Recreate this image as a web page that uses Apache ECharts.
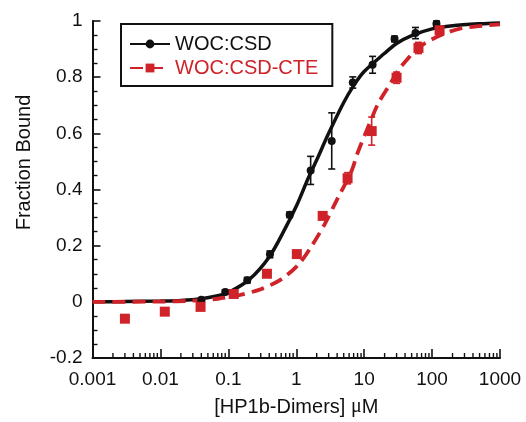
<!DOCTYPE html>
<html>
<head>
<meta charset="utf-8">
<script src="https://cdn.jsdelivr.net/npm/echarts@6/dist/echarts.min.js"></script>
<style>
  html, body { margin: 0; padding: 0; background: #fff; }
  #chart { width: 526px; height: 422px; }
</style>
</head>
<body>
<div id="chart"></div>
<script>
// Binding titration: fraction bound vs HP1b dimer concentration (µM)
const seriesNames = ['WOC:CSD', 'WOC:CSD-CTE'];

// WOC:CSD measured points
const csdConc = [0.04, 0.09, 0.19, 0.41, 0.8, 1.63, 3.33, 6.8, 13.3, 28, 57, 116];
const csdFrac = [0.007, 0.035, 0.077, 0.169, 0.31, 0.468, 0.573, 0.781, 0.844, 0.936, 0.957, 0.99];
const csdErr  = [0.005, 0.008, 0.01, 0.012, 0.01, 0.05, 0.1, 0.02, 0.03, 0.01, 0.02, 0.01];

// WOC:CSD-CTE measured points
const cteConc = [0.003, 0.0116, 0.039, 0.12, 0.37, 1.02, 2.45, 5.7, 12.9, 30, 63, 129];
const cteFrac = [-0.06, -0.035, -0.018, 0.028, 0.1, 0.17, 0.306, 0.44, 0.608, 0.798, 0.904, 0.967];
const cteErr  = [0.01, 0.01, 0.01, 0.01, 0.01, 0.01, 0.01, 0.02, 0.05, 0.02, 0.02, 0.01];

// Fitted binding curves
const csdFitConc = [0.001, 0.003, 0.01, 0.02, 0.04, 0.07, 0.1, 0.2, 0.4, 0.7, 1, 1.5, 2, 3, 5, 7, 10, 20, 30, 50, 100, 200, 500, 1000];
const csdFitFrac = [0, 0.001, 0.003, 0.005, 0.011, 0.022, 0.033, 0.078, 0.16, 0.265, 0.34, 0.44, 0.505, 0.6, 0.71, 0.77, 0.82, 0.885, 0.92, 0.948, 0.972, 0.983, 0.99, 0.993];
const cteFitConc = [0.001, 0.01, 0.03, 0.07, 0.15, 0.3, 0.6, 1.1, 1.7, 2.6, 4, 6.5, 8, 13, 16, 24, 33, 42, 59, 100, 160, 250, 450, 1000];
const cteFitFrac = [0, 0.001, 0.004, 0.011, 0.025, 0.045, 0.08, 0.135, 0.2, 0.275, 0.365, 0.465, 0.53, 0.655, 0.705, 0.775, 0.83, 0.86, 0.9, 0.935, 0.957, 0.972, 0.981, 0.988];

// Axis tick labels
const xTickLabels = ['0.001', '0.01', '0.1', '1', '10', '100', '1000'];
const yTickLabels = ['-0.2', '0', '0.2', '0.4', '0.6', '0.8', '1'];

const BLACK = '#111111';
const RED = '#cf2229';
const FONT = '"Liberation Sans", Arial, sans-serif';

const zip = (a, b) => a.map((v, i) => [v, b[i]]);
const zip3 = (a, b, c) => a.map((v, i) => [v, b[i], c[i]]);

// log-axis minor ticks at 2..9 of each decade, placed on the bottom edge (y = -0.2)
const minorTickValues = [];
for (let e = -3; e < 3; e++) {
  for (let m = 2; m <= 9; m++) minorTickValues.push(m * Math.pow(10, e));
}

function errorBar(color) {
  return function (params, api) {
    const x = api.value(0), y = api.value(1), e = api.value(2);
    const hi = api.coord([x, y + e]);
    const lo = api.coord([x, y - e]);
    const w = 3.5;
    const style = { stroke: color, lineWidth: 1.6 };
    return {
      type: 'group',
      children: [
        { type: 'line', shape: { x1: hi[0], y1: hi[1], x2: lo[0], y2: lo[1] }, style },
        { type: 'line', shape: { x1: hi[0] - w, y1: hi[1], x2: hi[0] + w, y2: hi[1] }, style },
        { type: 'line', shape: { x1: lo[0] - w, y1: lo[1], x2: lo[0] + w, y2: lo[1] }, style }
      ]
    };
  };
}

const chart = echarts.init(document.getElementById('chart'), null, { renderer: 'canvas' });

chart.setOption({
  animation: false,
  backgroundColor: '#ffffff',
  textStyle: { fontFamily: FONT },
  grid: { left: 92.5, right: 26, top: 21, bottom: 60, containLabel: false },
  legend: {
    data: [
      { name: seriesNames[0], textStyle: { color: BLACK } },
      { name: seriesNames[1], textStyle: { color: RED } }
    ],
    orient: 'vertical',
    left: 121,
    top: 24,
    padding: [10, 14, 8, 8],
    itemGap: 4,
    itemWidth: 40,
    itemHeight: 11,
    borderColor: BLACK,
    borderWidth: 2,
    borderRadius: 0,
    textStyle: { fontSize: 20, fontFamily: FONT },
    selectedMode: false
  },
  xAxis: {
    type: 'log',
    logBase: 10,
    min: 0.001,
    max: 1000,
    splitNumber: 6,
    name: '[HP1b-Dimers] {mu|μ}M',
    nameLocation: 'middle',
    nameGap: 39,
    nameTextStyle: {
      fontSize: 20, color: BLACK, fontFamily: FONT,
      rich: { mu: { fontSize: 20, fontFamily: '"Liberation Serif", "DejaVu Serif", serif', color: BLACK } }
    },
    axisLine: { show: true, onZero: false, lineStyle: { color: BLACK, width: 2 } },
    axisTick: { show: true, inside: true, length: 9, lineStyle: { color: BLACK, width: 1.6 } },
    axisLabel: {
      fontSize: 19, color: BLACK, margin: 12, fontFamily: FONT,
      formatter: function (v) {
        const idx = Math.round(Math.log10(v)) + 3;
        return xTickLabels[idx] !== undefined ? xTickLabels[idx] : '';
      }
    },
    splitLine: { show: false }
  },
  yAxis: {
    type: 'value',
    min: -0.2,
    max: 1,
    interval: 0.2,
    name: 'Fraction Bound',
    nameLocation: 'middle',
    nameGap: 58,
    nameTextStyle: { fontSize: 20, color: BLACK, fontFamily: FONT, padding: [0, 0, 0, 54] },
    axisLine: { show: true, onZero: false, lineStyle: { color: BLACK, width: 2 } },
    axisTick: { show: true, inside: true, length: 8, lineStyle: { color: BLACK, width: 1.6 } },
    minorTick: { show: true, splitNumber: 4, length: 5, lineStyle: { color: BLACK, width: 1.4 } },
    axisLabel: {
      fontSize: 19, color: BLACK, margin: 10, fontFamily: FONT,
      formatter: function (v) {
        const idx = Math.round((v + 0.2) / 0.2);
        return yTickLabels[idx] !== undefined ? yTickLabels[idx] : '';
      }
    },
    splitLine: { show: false }
  },
  series: [
    {
      name: seriesNames[0],
      type: 'line',
      data: zip(csdFitConc, csdFitFrac),
      smooth: 0.3,
      symbol: 'circle',
      showSymbol: false,
      color: BLACK,
      lineStyle: { color: BLACK, width: 3.5 },
      itemStyle: { color: BLACK },
      z: 2
    },
    {
      name: seriesNames[1],
      type: 'line',
      data: zip(cteFitConc, cteFitFrac),
      smooth: 0.3,
      symbol: 'rect',
      showSymbol: false,
      color: RED,
      lineStyle: { color: RED, width: 3.8, type: [13, 7] },
      itemStyle: { color: RED },
      z: 3
    },
    {
      name: 'csd-error',
      type: 'custom',
      renderItem: errorBar(BLACK),
      data: zip3(csdConc, csdFrac, csdErr),
      encode: { x: 0, y: 1 },
      silent: true,
      z: 4
    },
    {
      name: 'csd-points',
      type: 'scatter',
      data: zip(csdConc, csdFrac),
      symbol: 'circle',
      symbolSize: 8,
      itemStyle: { color: BLACK, opacity: 1 },
      z: 5
    },
    {
      name: 'cte-error',
      type: 'custom',
      renderItem: errorBar(RED),
      data: zip3(cteConc, cteFrac, cteErr),
      encode: { x: 0, y: 1 },
      silent: true,
      z: 4
    },
    {
      name: 'cte-points',
      type: 'scatter',
      data: zip(cteConc, cteFrac),
      symbol: 'rect',
      symbolSize: 10,
      itemStyle: { color: RED, opacity: 1 },
      z: 5
    },
    {
      name: 'x-minor-ticks',
      type: 'custom',
      data: minorTickValues.map(v => [v, -0.2]),
      encode: { x: 0, y: 1 },
      silent: true,
      clip: false,
      renderItem: function (params, api) {
        const p = api.coord([api.value(0), api.value(1)]);
        return {
          type: 'line',
          shape: { x1: p[0], y1: p[1], x2: p[0], y2: p[1] - 5 },
          style: { stroke: BLACK, lineWidth: 1.4 }
        };
      },
      z: 6
    }
  ]
});
</script>
</body>
</html>
